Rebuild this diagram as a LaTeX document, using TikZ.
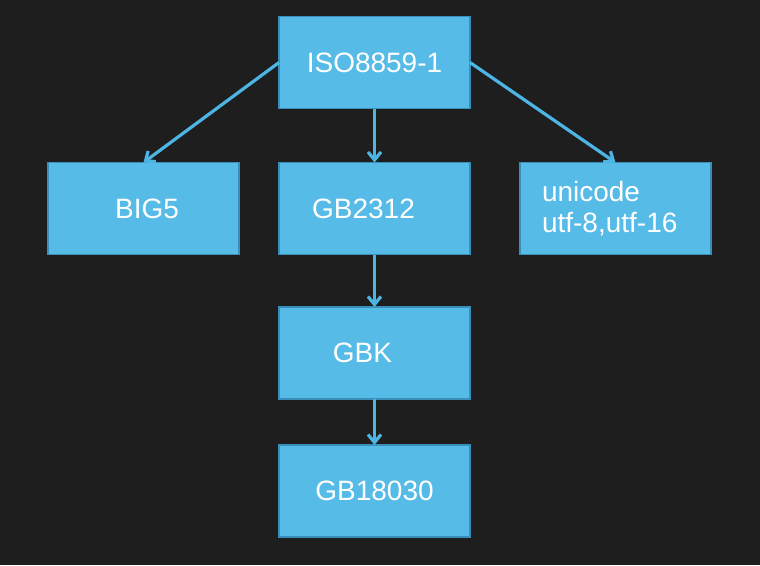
\documentclass[tikz,border=0pt]{standalone}
\usepackage{fontspec}
\setmainfont{Liberation Sans}
\usetikzlibrary{arrows.meta,positioning}
\definecolor{boxblue}{HTML}{56BBE6}
\definecolor{boxedge}{HTML}{3A8FBA}
\definecolor{arrowblue}{HTML}{4DB5E3}
\definecolor{board}{HTML}{1E1E1E}

\begin{document}
\begin{tikzpicture}[x=1pt, y=-1pt, node distance=54pt and 40pt]
\tikzstyle{charset} = [rectangle, fill=boxblue, draw=boxedge, line width=1.2pt, outer sep=0pt, minimum width=191pt, minimum height=92pt, inner sep=0pt, text=white, font=\fontsize{28}{31}\selectfont]
\tikzstyle{link} = [arrowblue, line width=3.2pt, -{Straight Barb[length=8pt,width=13pt]}]
\fill[board] (0,0) rectangle (760,565);
\node[charset] (iso) at (374.5,62.5) {ISO8859-1};
\node[charset] (gb2312) [below=of iso] {GB2312\hspace*{22pt}};
\node[charset] (big5) [left=of gb2312] {\hspace*{7pt}BIG5};
\node[charset, align=left, text width=147pt, inner xsep=22pt] (unicode) [right=50pt of gb2312] {unicode\\utf-8,utf-16};
\node[charset] (gbk) [below=52.5pt of gb2312] {GBK\hspace*{24pt}};
\node[charset] (gb18030) [below=46pt of gbk] {GB18030};
\foreach \from/\to in {iso.west/big5.north, iso/gb2312, iso.east/unicode.north, gb2312/gbk, gbk/gb18030}
\draw[link] (\from) -- (\to);
\end{tikzpicture}
\end{document}
